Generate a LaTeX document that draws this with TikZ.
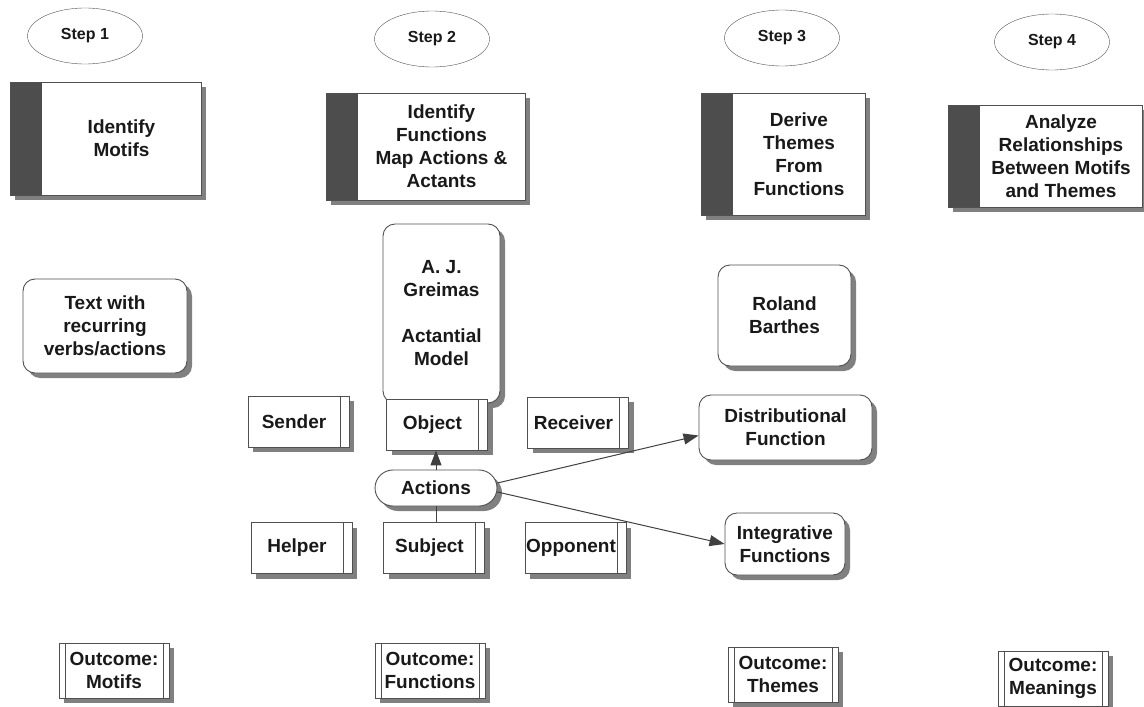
\documentclass[tikz,border=0pt]{standalone}
\usepackage{fontspec}
\setmainfont{Liberation Sans}
\usetikzlibrary{shapes.geometric, shadows, arrows.meta}

\definecolor{edge}{HTML}{505050}
\definecolor{bar}{HTML}{4D4D4D}
\definecolor{shade}{HTML}{808080}

\newcommand{\labelfont}{\bfseries\fontsize{19}{23}\selectfont}
\newcommand{\steptext}[2]{\hspace*{32pt}\parbox{#1}{\centering #2}}
\newcommand{\actbox}[1]{\makebox[92pt]{#1}\hspace*{9pt}}

\begin{document}
\begin{tikzpicture}[x=1pt, y=-1pt,
    every node/.style={font=\labelfont, text=black!90},
    shadowed/.style={drop shadow={shadow xshift=5pt, shadow yshift=-5pt, fill=shade, opacity=1}},
    steplabel/.style={ellipse, draw=edge, minimum width=115pt, minimum height=56pt,
        font=\bfseries\fontsize{16}{19}\selectfont},
    stepbox/.style={rectangle, draw=edge, line width=0.9pt, fill=white, shadowed, inner sep=0pt,
        path picture={\fill[bar] (path picture bounding box.north west) rectangle
            ([xshift=32pt]path picture bounding box.south west);}},
    roundbox/.style={rectangle, rounded corners=12pt, draw=edge, line width=0.9pt,
        fill=white, shadowed, align=center, inner sep=2pt},
    actant/.style={rectangle, draw=edge, line width=0.9pt, fill=white, shadowed, inner sep=0pt,
        minimum width=101pt, minimum height=51pt,
        path picture={\draw[edge, line width=0.9pt]
            ([xshift=-9pt]path picture bounding box.north east) --
            ([xshift=-9pt]path picture bounding box.south east);}},
    outcome/.style={rectangle, draw=edge, line width=0.9pt, fill=white, shadowed, inner sep=0pt,
        align=center, minimum width=110pt, minimum height=55pt,
        path picture={\draw[edge, line width=0.9pt]
            ([xshift=6pt]path picture bounding box.north west) --
            ([xshift=6pt]path picture bounding box.south west);
          \draw[edge, line width=0.9pt]
            ([xshift=-6pt]path picture bounding box.north east) --
            ([xshift=-6pt]path picture bounding box.south east);}},
    conn/.style={draw=edge!80!black, line width=1pt, -{Triangle[length=15pt, width=11pt]}}]

  \useasboundingbox (0,0) rectangle (1144,707);

  % steps
  \node[steplabel] (step1) at (85,36) {Step 1};
  \node[steplabel] (step2) at (432,39) {Step 2};
  \node[steplabel] (step3) at (782,38) {Step 3};
  \node[steplabel] (step4) at (1052,42) {Step 4};

  \node[stepbox, minimum height=113pt] (motifs) at (105.5,138.5)
      {\steptext{159pt}{Identify\\Motifs}};
  \node[stepbox, minimum height=107pt] (functions) at (425.5,146.5)
      {\steptext{167pt}{Identify\\Functions\\Map Actions \&\\Actants}};
  \node[stepbox, minimum height=122pt] (themes) at (783,154)
      {\steptext{132pt}{Derive\\Themes\\From\\Functions}};
  \node[stepbox, minimum height=102pt] (relations) at (1045,156)
      {\steptext{162pt}{Analyze\\Relationships\\Between Motifs\\and Themes}};

  % sources
  \node[roundbox, minimum width=164pt, minimum height=94pt] (textin) at (105,326)
      {Text with\\recurring\\verbs/actions};
  \node[roundbox, minimum width=117pt, minimum height=179pt] (greimas) at (441.5,313.5)
      {A. J.\\Greimas\\[23pt]Actantial\\Model};
  \node[roundbox, minimum width=133pt, minimum height=101pt] (barthes) at (784.5,315.5)
      {Roland\\Barthes};
  \node[roundbox, minimum width=173pt, minimum height=65pt] (distrib) at (785.5,427.5)
      {Distributional\\Function};
  \node[roundbox, minimum width=120pt, minimum height=62pt] (integr) at (785,544)
      {Integrative\\Functions};

  % actants
  \node[actant] (sender) at (298.5,421.5) {\actbox{Sender}};
  \node[actant] (object) at (437,424.5) {\actbox{Object}};
  \node[actant] (receiver) at (578,422.5) {\actbox{Receiver}};
  \node[actant] (helper) at (301.5,548) {\actbox{Helper}};
  \node[actant] (subject) at (434,548) {\actbox{Subject}};
  \node[actant] (opponent) at (575.5,548) {\actbox{Opponent}};

  \node[roundbox, rounded corners=18pt, minimum width=122pt, minimum height=36pt]
      (actions) at (436,488) {Actions};

  % outcomes
  \node[outcome] (out1) at (114,670.5) {Outcome:\\Motifs};
  \node[outcome] (out2) at (430,670.5) {Outcome:\\Functions};
  \node[outcome] (out3) at (783,674.5) {Outcome:\\Themes};
  \node[outcome] (out4) at (1053,678.5) {Outcome:\\Meanings};

  \draw[conn] (actions.north) -- (actions.north |- object.south);
  \draw[draw=edge!80!black, line width=1pt] (actions.south) -- (actions.south |- subject.north);
  \draw[conn] ([yshift=5pt]actions.east) -- ([yshift=-8pt]distrib.west);
  \draw[conn] ([yshift=-4pt]actions.east) -- (integr.west);
\end{tikzpicture}
\end{document}
